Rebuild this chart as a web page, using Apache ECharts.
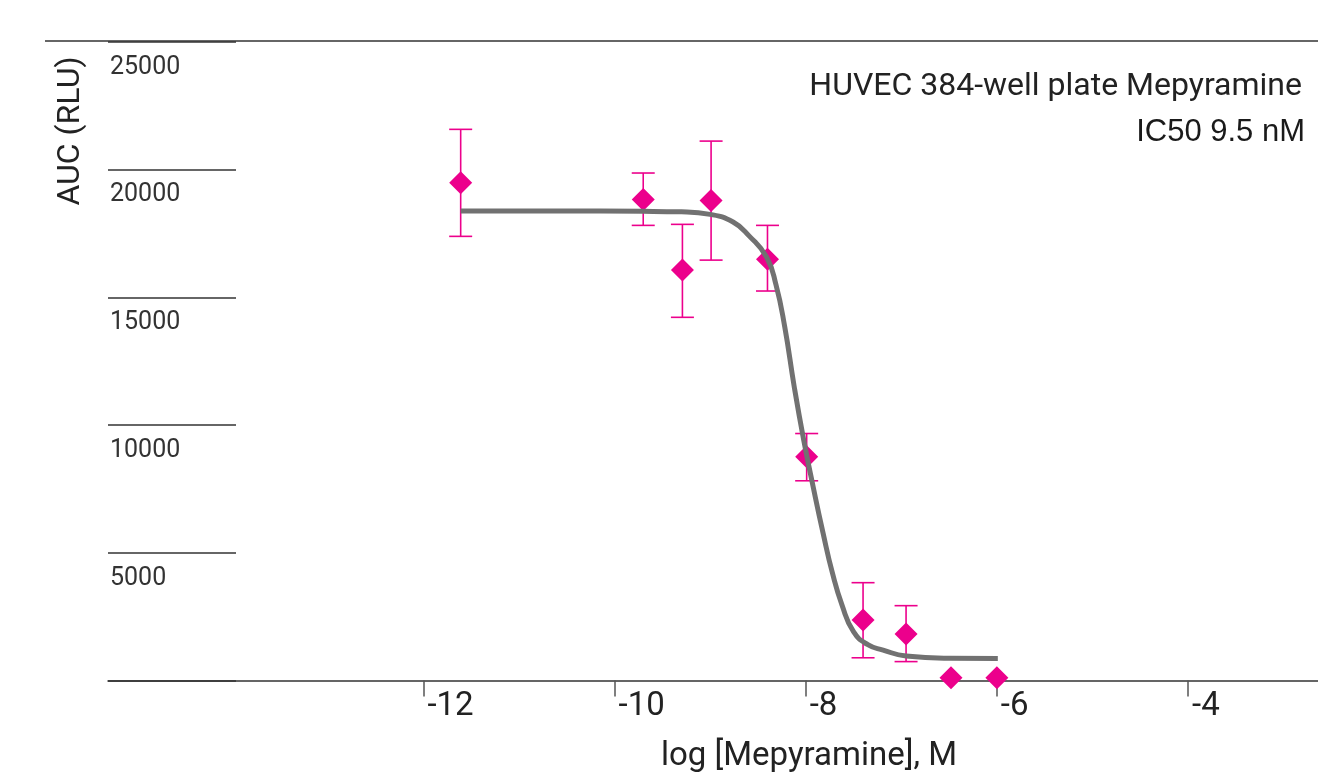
<!DOCTYPE html>
<html><head><meta charset="utf-8">
<script src="https://cdn.jsdelivr.net/npm/echarts@6/dist/echarts.min.js"></script>
<style>html,body{margin:0;padding:0;background:#fff}#c{width:1318px;height:782px}</style>
</head><body><div id="c"></div>
<script>
// measured points: log concentration (M), mean AUC (RLU), error bar ends
const logConc = [-11.61, -9.70, -9.29, -8.99, -8.40, -7.99, -7.40, -6.95, -6.48, -6.00];
const meanAUC = [19490, 18830, 16070, 18790, 16490, 8760, 2370, 1820, 110, 110];
const errHigh = [21580, 19870, 17860, 21120, 17820, 9670, 3830, 2930, null, null];
const errLow  = [17390, 17820, 14220, 16460, 15250, 7820, 890, 740, null, null];
// fitted curve
const fitX = [-11.61, -10.60, -9.70, -9.30, -9.00, -8.76, -8.59, -8.41, -8.31, -8.22, -8.12, -8.02, -7.92, -7.82, -7.72, -7.62, -7.50, -7.35, -7.19, -6.95, -6.49, -5.99];
const fitY = [18380, 18380, 18370, 18350, 18250, 17950, 17400, 16580, 15480, 13860, 11500, 9400, 7550, 5800, 4200, 2950, 1910, 1400, 1190, 960, 870, 860];
const xTickValues = [-12, -10, -8, -6, -4];
const yMin = 0, yMax = 25000, yStep = 5000;
const xMin = -15.30, xMax = -2.64;

const magenta = '#ec008c';
const pts = logConc.map((x, i) => [x, meanAUC[i]]);
const errs = logConc.map((x, i) => [x, errLow[i], errHigh[i]]).filter(d => d[1] != null);
const curve = fitX.map((x, i) => [x, fitY[i]]);

const chart = echarts.init(document.getElementById('c'), null, {renderer: 'canvas'});
chart.setOption({
  animation: false,
  backgroundColor: '#fff',
  title: [
    {text: 'HUVEC 384-well plate Mepyramine', right: 16, top: 71, padding: 0,
     textStyle: {fontFamily: 'Roboto', fontSize: 32, fontWeight: 'normal', color: '#222'}},
    {text: 'IC50 9.5 nM', right: 13, top: 117, padding: 0,
     textStyle: {fontFamily: 'Liberation Sans', fontSize: 31, fontWeight: 'normal', color: '#1a1a1a'}}
  ],
  grid: [
    {left: 108, right: 0, top: 42, bottom: 101.5},
    {left: 108, width: 128, top: 42, bottom: 101.5}
  ],
  xAxis: [
    {type: 'value', gridIndex: 0, min: xMin, max: xMax,
     axisLine: {show: true, lineStyle: {color: '#333', width: 1.5}},
     axisTick: {show: true, customValues: xTickValues, length: 16, lineStyle: {color: '#555', width: 1.5}},
     axisLabel: {show: true, customValues: xTickValues, align: 'left', margin: 10, padding: [0, 0, 0, 4],
                 fontFamily: 'Roboto', fontSize: 33, color: '#222'},
     splitLine: {show: false},
     name: 'log [Mepyramine], M', nameLocation: 'middle', nameGap: 60,
     nameTextStyle: {fontFamily: 'Roboto', fontSize: 33, color: '#222', padding: [0, 0, 0, 192]}},
    {type: 'value', gridIndex: 1, min: 0, max: 1, show: false}
  ],
  yAxis: [
    {type: 'value', gridIndex: 0, min: yMin, max: yMax, interval: yStep,
     axisLine: {show: false}, axisTick: {show: false}, splitLine: {show: false},
     axisLabel: {inside: true, margin: 2, verticalAlign: 'top', padding: [13, 0, 0, 0],
                 fontFamily: 'Roboto', fontSize: 25, color: '#333',
                 formatter: v => v === 0 ? '' : String(v)}},
    {type: 'value', gridIndex: 1, min: yMin, max: yMax, interval: yStep,
     axisLine: {show: false}, axisTick: {show: false}, axisLabel: {show: false},
     splitLine: {show: true, lineStyle: {color: '#333', width: 1.5}}}
  ],
  graphic: [
    {type: 'line', shape: {x1: 45, y1: 41, x2: 1318, y2: 41}, style: {stroke: '#333', lineWidth: 1.5}, z: 1},
    {type: 'text', x: 71, y: 131, rotation: Math.PI / 2,
     style: {text: 'AUC (RLU)', font: '32px Roboto', fill: '#222', align: 'center', verticalAlign: 'middle'}}
  ],
  series: [
    {type: 'custom', xAxisIndex: 0, yAxisIndex: 0, data: errs, z: 2,
     renderItem: function (params, api) {
       const x = api.value(0), lo = api.value(1), hi = api.value(2);
       const pH = api.coord([x, hi]), pL = api.coord([x, lo]);
       const hw = 11.5;
       const st = {stroke: magenta, lineWidth: 1.6};
       return {type: 'group', children: [
         {type: 'line', shape: {x1: pH[0], y1: pH[1], x2: pL[0], y2: pL[1]}, style: st},
         {type: 'line', shape: {x1: pH[0] - hw, y1: pH[1], x2: pH[0] + hw, y2: pH[1]}, style: st},
         {type: 'line', shape: {x1: pL[0] - hw, y1: pL[1], x2: pL[0] + hw, y2: pL[1]}, style: st}
       ]};
     }},
    {type: 'scatter', xAxisIndex: 0, yAxisIndex: 0, data: pts, symbol: 'diamond', symbolSize: [23, 23],
     itemStyle: {color: magenta, opacity: 1}, z: 3},
    {type: 'line', xAxisIndex: 0, yAxisIndex: 0, data: curve, showSymbol: false, symbol: 'none',
     smooth: 0.5, lineStyle: {color: '#717171', width: 5}, z: 4}
  ]
});
</script></body></html>
